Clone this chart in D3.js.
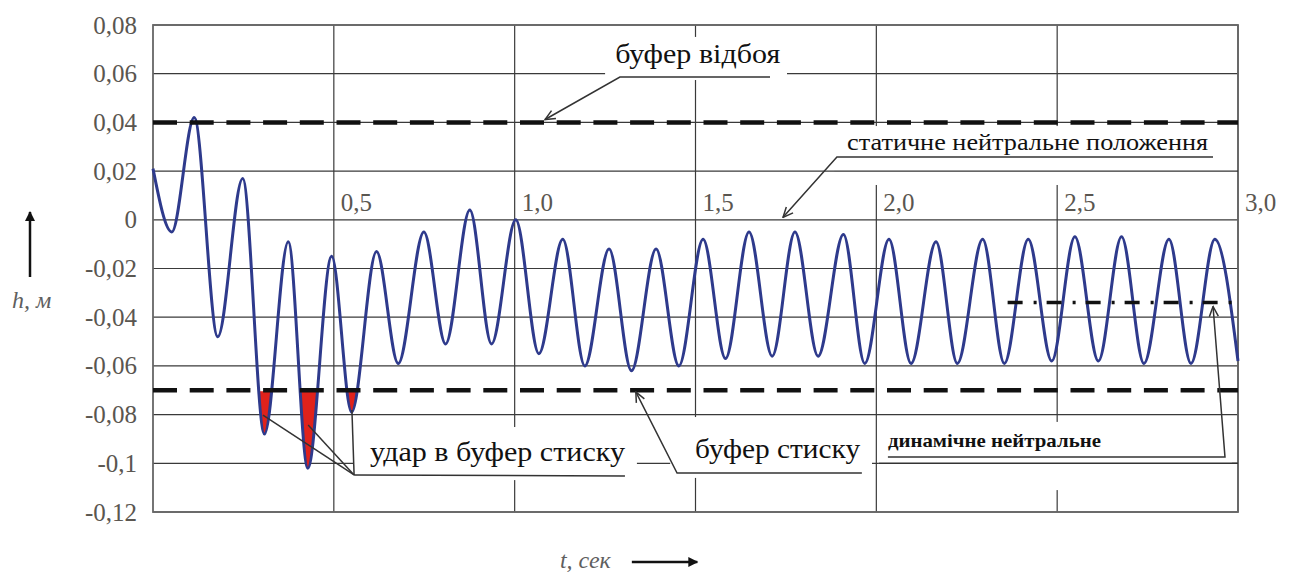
<!DOCTYPE html>
<html>
<head>
<meta charset="utf-8">
<script src="https://cdn.jsdelivr.net/npm/d3@7"></script>
<style>
  body { margin: 0; background: #fff; }
  svg { display: block; }
</style>
</head>
<body>
<div id="chart"></div>
<script>
// extrema of the body displacement h(t)
const tPoints = [0, 0.052, 0.114, 0.179, 0.248, 0.308, 0.374, 0.428, 0.494, 0.549,
  0.618, 0.678, 0.749, 0.809, 0.876, 0.936, 1.003, 1.067, 1.133, 1.194,
  1.261, 1.323, 1.391, 1.454, 1.521, 1.583, 1.648, 1.712, 1.775, 1.839,
  1.909, 1.968, 2.035, 2.096, 2.165, 2.224, 2.294, 2.354, 2.420, 2.485,
  2.549, 2.614, 2.678, 2.740, 2.809, 2.870, 2.936, 3.0];
const hPoints = [0.021, -0.005, 0.042, -0.048, 0.017, -0.088, -0.009, -0.102, -0.015, -0.079,
  -0.013, -0.059, -0.005, -0.051, 0.004, -0.051, 0.000, -0.055, -0.008, -0.060,
  -0.012, -0.062, -0.012, -0.060, -0.008, -0.057, -0.005, -0.056, -0.005, -0.056,
  -0.006, -0.059, -0.008, -0.059, -0.009, -0.059, -0.008, -0.059, -0.008, -0.058,
  -0.007, -0.058, -0.007, -0.059, -0.008, -0.059, -0.008, -0.058];

const yTicks = [0.08, 0.06, 0.04, 0.02, 0, -0.02, -0.04, -0.06, -0.08, -0.1, -0.12];
const yTickLabels = ['0,08', '0,06', '0,04', '0,02', '0', '-0,02', '-0,04', '-0,06', '-0,08', '-0,1', '-0,12'];
const xTicks = [0.5, 1.0, 1.5, 2.0, 2.5, 3.0];
const xTickLabels = ['0,5', '1,0', '1,5', '2,0', '2,5', '3,0'];

const bufferRebound = 0.04;       // буфер відбоя
const bufferCompression = -0.07;  // буфер стиску
const dynamicNeutral = -0.034;    // динамічне нейтральне
const staticNeutral = 0;          // статичне нейтральне

const data = tPoints.map((t, i) => ({ t: t, h: hPoints[i] }));

const W = 1295, H = 572;
const margin = { top: 25, right: 57, bottom: 60, left: 153 };
const width = W - margin.left - margin.right;
const height = H - margin.top - margin.bottom;
const FONT = 'Liberation Serif';

const svg = d3.select('#chart').append('svg')
  .attr('width', W)
  .attr('height', H)
  .attr('font-family', FONT);
svg.append('rect').attr('width', W).attr('height', H).attr('fill', '#fff');

const defs = svg.append('defs');
defs.append('marker')
  .attr('id', 'open')
  .attr('viewBox', '0 0 12 12')
  .attr('refX', 11).attr('refY', 6)
  .attr('markerWidth', 12).attr('markerHeight', 12)
  .attr('markerUnits', 'userSpaceOnUse')
  .attr('orient', 'auto')
  .append('path')
  .attr('d', 'M1,1.5 L11,6 L1,10.5')
  .attr('fill', 'none')
  .attr('stroke', '#333')
  .attr('stroke-width', 1.5);
defs.append('marker')
  .attr('id', 'solid')
  .attr('viewBox', '0 0 10 10')
  .attr('refX', 9).attr('refY', 5)
  .attr('markerWidth', 14).attr('markerHeight', 10)
  .attr('markerUnits', 'userSpaceOnUse')
  .attr('orient', 'auto')
  .append('path')
  .attr('d', 'M0,0 L10,5 L0,10 Z')
  .attr('fill', '#111');

const g = svg.append('g')
  .attr('transform', 'translate(' + margin.left + ',' + margin.top + ')');

const x = d3.scaleLinear().domain([0, 3]).range([0, width]);
const y = d3.scaleLinear().domain([-0.12, 0.08]).range([height, 0]);

// keep only the part of the fill that lies below the compression buffer
defs.append('clipPath').attr('id', 'below')
  .append('rect')
  .attr('x', 0)
  .attr('y', y(bufferCompression) + 1)
  .attr('width', width)
  .attr('height', height - y(bufferCompression));

// grid
g.selectAll('.hgrid').data(yTicks).join('line')
  .attr('x1', 0).attr('x2', width)
  .attr('y1', d => y(d)).attr('y2', d => y(d))
  .attr('stroke', '#3a3a3a').attr('stroke-width', 1.2);
g.selectAll('.vgrid').data(xTicks).join('line')
  .attr('x1', d => x(d)).attr('x2', d => x(d))
  .attr('y1', 0).attr('y2', height)
  .attr('stroke', '#3a3a3a').attr('stroke-width', 1.2);
g.append('rect')
  .attr('width', width).attr('height', height)
  .attr('fill', 'none').attr('stroke', '#666').attr('stroke-width', 1.8);

// y tick labels
const yAxis = g.append('g')
  .call(d3.axisLeft(y).tickValues(yTicks).tickFormat((d, i) => yTickLabels[i]).tickSize(0).tickPadding(16))
  .attr('font-family', FONT)
  .attr('font-size', 25)
  .attr('color', '#5a5650');
yAxis.select('.domain').remove();

// x tick labels sit on the zero line
g.selectAll('.xlab').data(xTicks).join('text')
  .attr('x', d => x(d) + 7)
  .attr('y', y(staticNeutral) - 9)
  .attr('font-family', FONT)
  .attr('font-size', 25)
  .attr('fill', '#5a5650')
  .text((d, i) => xTickLabels[i]);

// impacts into the compression buffer
const area = d3.area()
  .x(d => x(d.t))
  .y0(y(bufferCompression))
  .y1(d => y(d.h))
  .curve(d3.curveMonotoneX);
g.append('path')
  .datum(data)
  .attr('clip-path', 'url(#below)')
  .attr('fill', '#e0221b')
  .attr('d', area);

const line = d3.line()
  .x(d => x(d.t))
  .y(d => y(d.h))
  .curve(d3.curveMonotoneX);
g.append('path')
  .datum(data)
  .attr('fill', 'none')
  .attr('stroke', '#2e3a8c')
  .attr('stroke-width', 3)
  .attr('d', line);

// buffers
[bufferRebound, bufferCompression].forEach(v => {
  g.append('line')
    .attr('x1', 0).attr('x2', width)
    .attr('y1', y(v)).attr('y2', y(v))
    .attr('stroke', '#111')
    .attr('stroke-width', 4.5)
    .attr('stroke-dasharray', '24,12.7');
});
g.append('line')
  .attr('x1', x(2.363)).attr('x2', width)
  .attr('y1', y(dynamicNeutral)).attr('y2', y(dynamicNeutral))
  .attr('stroke', '#111')
  .attr('stroke-width', 3.5)
  .attr('stroke-dasharray', '15,11,3,10');

// callouts
const P = p => [x(p[0]), y(p[1])];
function box(t0, t1, h0, h1) {
  g.append('rect')
    .attr('x', x(t0)).attr('y', y(h0))
    .attr('width', x(t1) - x(t0)).attr('height', y(h1) - y(h0))
    .attr('fill', '#fff');
}
function leader(pts, arrow, sw) {
  g.append('path')
    .attr('d', d3.line()(pts.map(P)))
    .attr('fill', 'none')
    .attr('stroke', '#333')
    .attr('stroke-width', sw || 1.5)
    .attr('marker-end', arrow ? 'url(#open)' : null);
}
function label(text, t, h, size, len, weight) {
  g.append('text')
    .attr('x', x(t)).attr('y', y(h))
    .attr('font-family', FONT)
    .attr('font-size', size)
    .attr('font-weight', weight || 'normal')
    .attr('textLength', len)
    .attr('lengthAdjust', 'spacingAndGlyphs')
    .attr('fill', '#111')
    .text(text);
}

// буфер відбоя
box(1.25, 1.753, 0.0751, 0.0574);
label('буфер відбоя', 1.278, 0.0644, 27, 165);
leader([[1.706, 0.0586], [1.291, 0.0586], [1.084, 0.0412]], true);

// статичне нейтральне положення
box(1.883, 2.997, 0.0385, 0.0143);
label('статичне нейтральне положення', 1.919, 0.0287, 23, 361);
leader([[2.931, 0.0258], [1.891, 0.0258], [1.742, 0.0010]], true);
leader([[1.883, 0.02], [3.0, 0.02]], false, 1.4);

// удар в буфер стиску
box(0.553, 1.338, -0.0851, -0.1069);
label('удар в буфер стиску', 0.600, -0.099, 27, 255);
leader([[1.305, -0.1052], [0.556, -0.1048]], false);
leader([[0.556, -0.1048], [0.304, -0.0802]], false);
leader([[0.556, -0.1048], [0.429, -0.0843]], false);
leader([[0.556, -0.1048], [0.550, -0.0781]], false);

// буфер стиску
box(1.430, 1.988, -0.0810, -0.1060);
label('буфер стиску', 1.499, -0.0978, 27, 165);
leader([[1.960, -0.1040], [1.449, -0.1040], [1.335, -0.0707]], true);

// динамічне нейтральне
box(2.007, 2.983, -0.0830, -0.1110);
label('динамічне нейтральне', 2.032, -0.0933, 19, 213, 'bold');
leader([[2.032, -0.0974], [2.964, -0.0974], [2.931, -0.0356]], true);
leader([[2.007, -0.1], [3.0, -0.1]], false, 1.6);

// axis titles
const axisInk = '#5f5f5f';
g.append('text')
  .attr('x', -141).attr('y', height - 204)
  .attr('font-family', FONT)
  .attr('font-style', 'italic')
  .attr('font-size', 24).attr('fill', axisInk)
  .text('h, м');
g.append('line')
  .attr('x1', -123).attr('x2', -123)
  .attr('y1', height - 235).attr('y2', height - 300)
  .attr('stroke', '#111').attr('stroke-width', 2.5)
  .attr('marker-end', 'url(#solid)');

g.append('text')
  .attr('x', x(1.125)).attr('y', height + 56)
  .attr('font-family', FONT)
  .attr('font-style', 'italic')
  .attr('font-size', 24).attr('fill', axisInk)
  .text('t, сек');
g.append('line')
  .attr('x1', x(1.324)).attr('x2', x(1.505))
  .attr('y1', height + 50).attr('y2', height + 50)
  .attr('stroke', '#111').attr('stroke-width', 2.5)
  .attr('marker-end', 'url(#solid)');
</script>
</body>
</html>
